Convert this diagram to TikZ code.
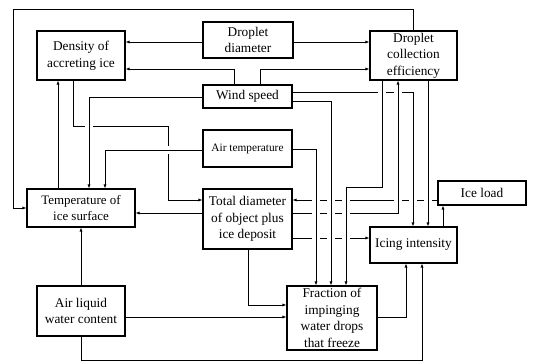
\documentclass[tikz,border=0pt]{standalone}
\usepackage{fontspec}
\setmainfont{Liberation Serif}
\usepackage{tikz}
\usetikzlibrary{arrows.meta,backgrounds}

\begin{document}
\begin{tikzpicture}[x=0.75pt, y=-0.75pt,
	box/.style={draw, fill=white, line width=0.9pt, inner sep=0pt, align=center,
		font=\fontsize{10}{12.5}\selectfont},
	arr/.style={line width=0.6pt, -{Latex[length=3pt,width=2.4pt]}},
	halo/.style={preaction={draw=white, line width=6pt, -}}]
	\useasboundingbox (0,0) rectangle (533,363);
	% boxes
	\node (dens) [box, minimum width=66pt, minimum height=36.75pt] at (81, 55.5) {Density of\\accreting ice};
	\node (dd) [box, minimum width=67.5pt, minimum height=27pt] at (248, 40) {Droplet\\diameter};
	\node (dce) [box, minimum width=65.25pt, minimum height=36.75pt] at (413.5, 55.5) {Droplet\\collection\\efficiency};
	\node (ws) [box, minimum width=66.75pt, minimum height=17.25pt] at (247.5, 96.5) {Wind speed};
	\node (at) [box, minimum width=66.75pt, minimum height=27.75pt, font=\fontsize{8.5}{10}\selectfont] at (247.5, 148.5) {Air temperature};
	\node (tis) [box, minimum width=81pt, minimum height=28.5pt, font=\fontsize{9.7}{12.5}\selectfont] at (81, 208) {Temperature of\\ice surface};
	\node (td) [box, minimum width=66.75pt, minimum height=45pt] at (247.5, 219) {Total diameter\\of object plus\\ice deposit};
	\node (il) [box, minimum width=66pt, minimum height=18pt] at (482, 193) {Ice load};
	\node (ii) [box, minimum width=65.25pt, minimum height=27pt] at (413.5, 245) {Icing intensity};
	\node (fr) [box, minimum width=67.5pt, minimum height=48pt] at (332, 318) {Fraction of\\impinging\\water drops\\that freeze};
	\node (alwc) [box, minimum width=66pt, minimum height=37.5pt] at (81, 311) {Air liquid\\water content};

	\begin{scope}[on background layer]
	% left part
	\draw[arr] (dd.west |- 0,42) -- (dens.east |- 0,42);
	\draw[arr] (dd.east |- 0,42) -- (dce.west |- 0,42);
	\draw[arr] (ws.north -| 234,0) |- (dens.east |- 0,69);
	\draw[arr] (ws.north -| 260,0) |- (dce.west |- 0,69);
	\draw[arr] (dce.north) |- (13,9) |- (tis.west);
	\draw[arr] (dens.south -| 73,0) |- (168,126) |- (td.west |- 0,200);
	\draw[arr,halo] (ws.west |- 0,97) -| (tis.north -| 89,0);
	\draw[arr,halo] (at.west |- 0,150) -| (tis.north -| 105,0);
	\draw[arr] (tis.north -| 58,0) -- (dens.south -| 58,0);
	\draw[arr] (alwc.north) -- (tis.south);
	\draw[arr] (td.west |- 0,213) -- (tis.east |- 0,213);
	% lower part
	\draw[arr] (td.south -| 248,0) |- (fr.west |- 0,305);
	\draw[arr] (alwc.east |- 0,317) -- (fr.west |- 0,317);
	\draw[arr] (fr.east |- 0,317) -| (ii.south -| 406,0);
	\draw[arr] (alwc.south) |- (422,360) -- (ii.south -| 422,0);
	% right part, crossing lines drawn last
	\draw[arr] (il.west |- 0,200) -- (td.east |- 0,200);
	\draw[arr] (td.east |- 0,238) -- (ii.west |- 0,238);
	\draw[arr] (ii.north -| 443,0) -- (il.south -| 443,0);
	\draw[arr,halo] (ws.east |- 0,92) -| (ii.north -| 413,0);
	\draw[arr,halo] (td.east |- 0,213) -| (dce.south -| 398,0);
	\draw[arr,halo] (at.east |- 0,149) -| (fr.north -| 316,0);
	\draw[arr,halo] (ws.east |- 0,101) -| (fr.north -| 331,0);
	\draw[arr,halo] (dce.south -| 382,0) |- (346,187) -- (fr.north -| 346,0);
	\draw[arr,halo] (dce.south -| 428,0) -- (ii.north -| 428,0);
	\end{scope}
\end{tikzpicture}
\end{document}
